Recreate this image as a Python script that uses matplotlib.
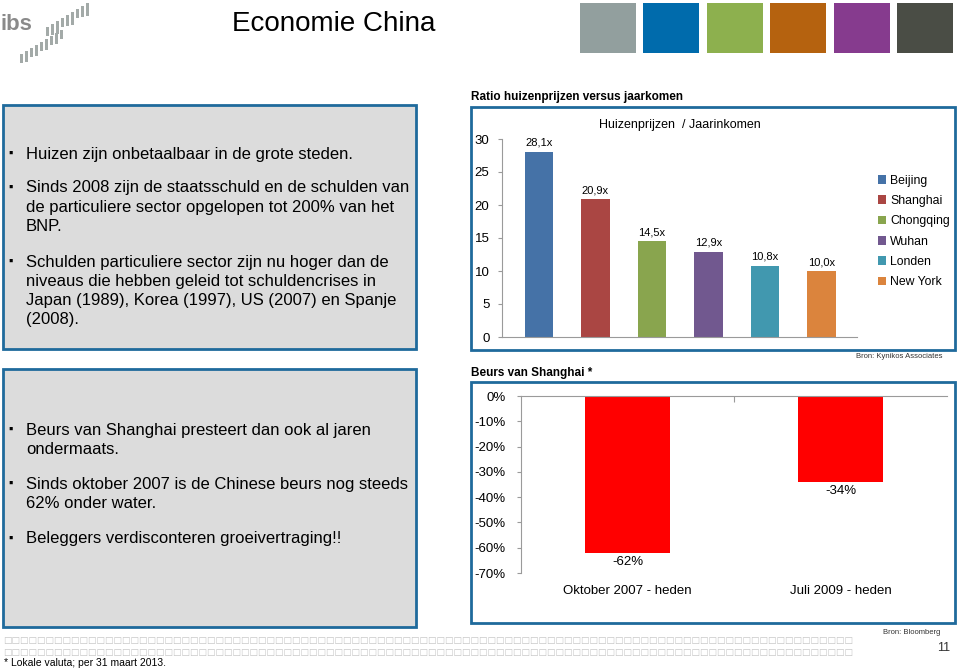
import matplotlib.pyplot as plt
from matplotlib.patches import Rectangle

plt.rcParams['font.family'] = ['Liberation Sans', 'DejaVu Sans']

# data
cities = ['Beijing', 'Shanghai', 'Chongqing', 'Wuhan', 'Londen', 'New York']
ratios = [28.1, 20.9, 14.5, 12.9, 10.8, 10.0]
city_colors = ['#4572a7', '#aa4643', '#89a54e', '#71588f', '#4198af', '#db843d']

periods = ['Oktober 2007 - heden', 'Juli 2009 - heden']
returns = [-62, -34]

bullets_top = [
    ['Huizen zijn onbetaalbaar in de grote steden.'],
    ['Sinds 2008 zijn de staatsschuld en de schulden van',
     'de particuliere sector opgelopen tot 200% van het', 'BNP.'],
    ['Schulden particuliere sector zijn nu hoger dan de',
     'niveaus die hebben geleid tot schuldencrises in',
     'Japan (1989), Korea (1997), US (2007) en Spanje', '(2008).'],
]
bullets_bottom = [
    ['Beurs van Shanghai presteert dan ook al jaren', 'ondermaats.'],
    ['Sinds oktober 2007 is de Chinese beurs nog steeds', '62% onder water.'],
    ['Beleggers verdisconteren groeivertraging!!'],
]
header_colors = ['#929f9e', '#006bac', '#8db04e', '#b5620f', '#863b8e', '#4a4d45']

W, H = 960, 671
fig = plt.figure(figsize=(9.6, 6.71), dpi=100)


def px(x, y):
    return x / W, 1 - y / H


def rect(x0, y0, x1, y1, **kw):
    fx, fy = px(x0, y1)
    fig.patches.append(Rectangle((fx, fy), (x1 - x0) / W, (y1 - y0) / H,
                                 transform=fig.transFigure, **kw))


def box(x0, y0, x1, y1, fc):
    rect(x0, y0, x1, y1, fc=fc, ec='#1f6a9c', lw=2, zorder=-1)


def ptext(x, y, s, **kw):
    fx, fy = px(x, y)
    fig.text(fx, fy, s, **kw)


# header / logo
ptext(0, 25, 'ibs', fontsize=16, fontweight='bold', color='#8a8a8a', va='center')
for i in range(9):
    x = 46 + i * 5
    top = 30 - i * 3
    rect(x, top - 3, x + 3, top + 6 + (i % 3) * 2, fc='#a3aaa8', lw=0)
    x = 20 + i * 5
    top = 58 - i * 3
    rect(x, top - 4, x + 3, top + 5 + (i % 2) * 2, fc='#a3aaa8', lw=0)
ptext(232, 24, 'Economie China', fontsize=20, va='center')
for i, c in enumerate(header_colors):
    rect(580 + i * 63.4, 3, 636 + i * 63.4, 53, fc=c, lw=0)

# left text boxes
box(3, 105, 416, 349, '#dcdcdc')
box(3, 369, 416, 627, '#dcdcdc')


def bullet_block(groups, starts):
    for lines, y in zip(groups, starts):
        ptext(8, y, '\u25aa', fontsize=9, va='center')
        for j, line in enumerate(lines):
            ptext(26, y + j * 19.2, line, fontsize=12, va='center')


bullet_block(bullets_top, [154, 188, 262])
bullet_block(bullets_bottom, [430, 484, 539])

# chart 1
ptext(471, 97, 'Ratio huizenprijzen versus jaarkomen', fontsize=8.5,
      fontweight='bold', va='center')
box(471, 107, 955, 350, 'white')
ax1 = fig.add_axes([502 / W, 1 - 337 / H, 355 / W, 198 / H])
ax1.set_facecolor('none')
x1 = range(len(cities))
bars = ax1.bar(x1, ratios, width=0.5, color=city_colors, label=cities)
for xi, v in zip(x1, ratios):
    ax1.text(xi, v + 0.6, f'{v:.1f}x'.replace('.', ','), ha='center',
             va='bottom', fontsize=8)
ax1.set_ylim(0, 30)
ax1.set_xlim(-0.655, 5.63)
ax1.set_yticks(range(0, 31, 5))
ax1.set_xticks([])
for s in ['top', 'right']:
    ax1.spines[s].set_visible(False)
for s in ['left', 'bottom']:
    ax1.spines[s].set_color('#9a9a9a')
ax1.tick_params(axis='y', labelsize=9.5, length=3, color='#9a9a9a', pad=6)
ax1.text(0.5, 1.07, 'Huizenprijzen  / Jaarinkomen', transform=ax1.transAxes,
         ha='center', va='center', fontsize=9)
leg = ax1.legend(handles=list(bars), labels=cities, loc='upper left',
                 bbox_to_anchor=(1.045, 0.845), frameon=False, fontsize=8.8,
                 handlelength=0.7, handleheight=0.7, handletextpad=0.3,
                 labelspacing=0.68, borderaxespad=0)
ptext(942, 356, 'Bron: Kynikos Associates', fontsize=5.5, ha='right',
      va='center', color='#333333')

# chart 2
ptext(471, 373, 'Beurs van Shanghai *', fontsize=8.5, fontweight='bold',
      va='center')
box(471, 382, 955, 623, 'white')
ax2 = fig.add_axes([521 / W, 1 - 573 / H, 426 / W, 177 / H])
ax2.set_facecolor('none')
x2 = range(len(periods))
ax2.bar(x2, returns, width=0.4, color='#ff0000')
for xi, v in zip(x2, returns):
    ax2.text(xi, v - 1.2, f'{v}%', ha='center', va='top', fontsize=9.5)
    ax2.text(xi, -77, periods[xi], ha='center', va='center', fontsize=9.5)
ax2.set_ylim(-70, 0)
ax2.set_xlim(-0.5, 1.5)
ax2.set_yticks(range(-70, 1, 10))
ax2.set_yticklabels([f'{t}%' for t in range(-70, 1, 10)])
ax2.set_xticks([0.5])
ax2.set_xticklabels([])
ax2.xaxis.set_ticks_position('top')
ax2.tick_params(axis='x', direction='in', length=4, color='#9a9a9a')
for s in ['bottom', 'right']:
    ax2.spines[s].set_visible(False)
for s in ['left', 'top']:
    ax2.spines[s].set_color('#9a9a9a')
ax2.tick_params(axis='y', labelsize=9.5, length=3, color='#9a9a9a', pad=8)
ptext(940, 632, 'Bron: Bloomberg', fontsize=5.5, ha='right', va='center',
      color='#333333')

# footer
for yy in [641, 652]:
    ptext(3, yy, '\u25a1' * 100, fontsize=6.5, va='center', color='#c4c4c4',
          family='DejaVu Sans')
ptext(950, 648, '11', fontsize=9, ha='right', va='center', color='#333333')
ptext(4, 663, '* Lokale valuta; per 31 maart 2013.', fontsize=7.5, va='center')

fig.savefig('out.png', dpi=100)
